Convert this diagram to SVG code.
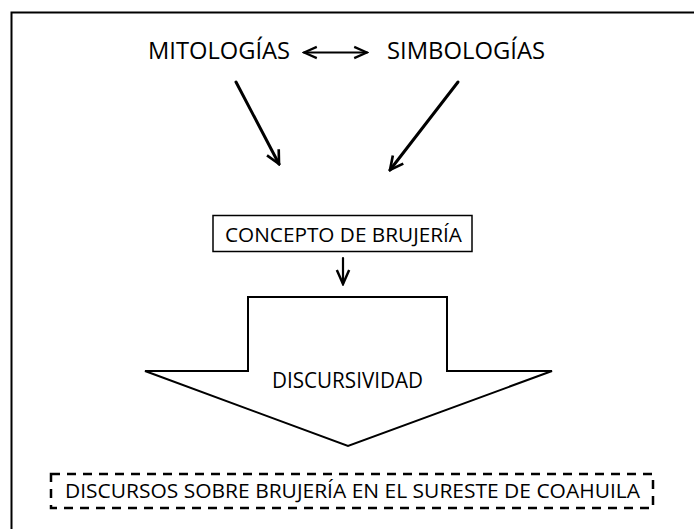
<svg xmlns="http://www.w3.org/2000/svg" width="694" height="529" viewBox="0 0 694 529">
<style>
text{font-family:"Open Sans","Liberation Sans",Arial,sans-serif;fill:#000;}
.ln{stroke:#000;fill:none;stroke-linecap:round;}
</style>
<defs>
<marker id="ah" viewBox="0 0 10 10" refX="9" refY="5" markerWidth="5.5" markerHeight="5.5" orient="auto-start-reverse" markerUnits="strokeWidth">
<path d="M1,1 L9,5 L1,9" fill="none" stroke="#000" stroke-width="1.6" stroke-linejoin="miter"/>
</marker>
<marker id="ah2" viewBox="0 0 10 10" refX="9" refY="5" markerWidth="8" markerHeight="8" orient="auto-start-reverse" markerUnits="strokeWidth">
<path d="M1,1.5 L9,5 L1,8.5" fill="none" stroke="#000" stroke-width="1.4"/>
</marker>
</defs>
<rect x="0" y="0" width="694" height="529" fill="#fff"/>
<rect x="11.5" y="12.5" width="690" height="530" fill="none" stroke="#000" stroke-width="2"/>
<g id="mitologias"><text x="148" y="59" font-size="23" textLength="142" lengthAdjust="spacingAndGlyphs">MITOLOGÍAS</text></g>
<g id="simbologias"><text x="387" y="59" font-size="23" textLength="158" lengthAdjust="spacingAndGlyphs">SIMBOLOGÍAS</text></g>
<g id="concepto">
<rect x="213" y="215.5" width="259" height="36" fill="#fff" stroke="#000" stroke-width="1.5"/>
<text x="225" y="242" font-size="20.5" textLength="237" lengthAdjust="spacingAndGlyphs">CONCEPTO DE BRUJERÍA</text>
</g>
<g id="discursividad">
<path d="M248,297 L447,297 L447,371 L552,371 L348,446 L145,371 L248,371 Z" fill="#fff" stroke="#000" stroke-width="2" stroke-linejoin="miter"/>
<text x="272" y="388" font-size="22.5" textLength="151" lengthAdjust="spacingAndGlyphs">DISCURSIVIDAD</text>
</g>
<g id="discursos">
<rect x="51" y="474" width="602" height="34" fill="none" stroke="#000" stroke-width="2.5" stroke-dasharray="9 7"/>
<text x="65" y="498" font-size="19.5" textLength="575" lengthAdjust="spacingAndGlyphs">DISCURSOS SOBRE BRUJERÍA EN EL SURESTE DE COAHUILA</text>
</g>
<g id="connectors">
<line class="ln" x1="304" y1="52.5" x2="367" y2="52.5" stroke-width="2" marker-start="url(#ah2)" marker-end="url(#ah2)"/>
<line class="ln" x1="236" y1="82" x2="279" y2="164" stroke-width="3" marker-end="url(#ah)"/>
<line class="ln" x1="458" y1="82" x2="390" y2="170" stroke-width="3" marker-end="url(#ah)"/>
<line class="ln" x1="343" y1="258" x2="343" y2="284" stroke-width="2.2" marker-end="url(#ah2)"/>
</g>
</svg>
